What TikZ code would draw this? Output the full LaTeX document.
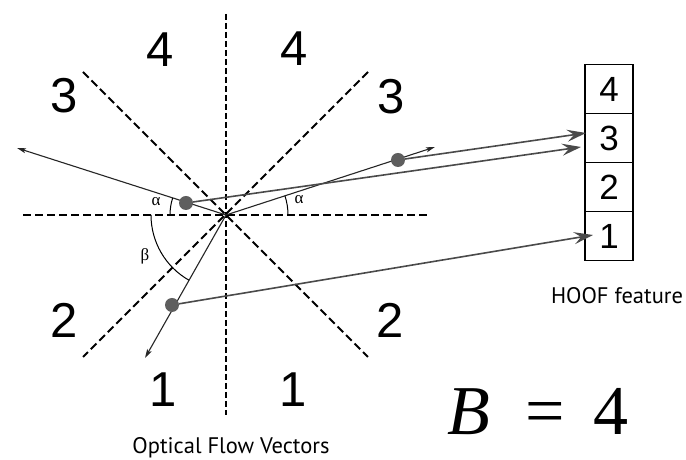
\documentclass[tikz,border=0pt]{standalone}
\usepackage{fontspec}
\setmainfont{Liberation Sans}
\newfontfamily\labelfont{PT Sans}
\newfontfamily\serifgr{Liberation Serif}
\usetikzlibrary{arrows.meta}
\definecolor{dotgray}{HTML}{5E5E5E}
\definecolor{arrgray}{HTML}{4A4A4A}
\begin{document}
\begin{tikzpicture}[x=1pt,y=1pt,
  axisline/.style={line width=2.1pt,dash pattern=on 8pt off 4pt},
  vaxis/.style={line width=1.6pt,dash pattern=on 6pt off 3pt},
  flowvec/.style={line width=1.1pt,draw=black!85,-{Stealth[length=9pt,width=5pt,inset=2pt]}},
  featarrow/.style={line width=1.6pt,draw=arrgray,-{Stealth[length=19pt,width=12pt,inset=7pt]}},
  dotnode/.style={circle,fill=dotgray,minimum size=14pt,inner sep=0pt},
  sector/.style={font=\fontsize{49}{49}\selectfont,inner sep=0pt},
  cell/.style={draw,line width=1.4pt,minimum width=48pt,minimum height=49pt,inner sep=0pt,font=\fontsize{35}{35}\selectfont},
  anglearc/.style={line width=1pt},
  greek/.style={font=\serifgr\fontsize{17}{17}\selectfont,inner sep=0pt},
  caption/.style={font=\labelfont\fontsize{22.5}{22.5}\selectfont,inner sep=0pt}]
\useasboundingbox (0,0) rectangle (686,460);
\fill[white] (0,0) rectangle (686,460);

% axes
\coordinate (O) at (226,245);
\coordinate (hL) at (23,245);
\coordinate (hR) at (428,245);
\coordinate (vT) at (226,446);
\coordinate (vB) at (226,45);
\coordinate (d1a) at (83,388);
\coordinate (d1b) at (368,103);
\coordinate (d2a) at (368,388);
\coordinate (d2b) at (83,103);
\draw[axisline] (hL) -- (hR);
\draw[vaxis] (vT) -- (vB);
\draw[axisline] (d1a) -- (d1b);
\draw[axisline] (d2a) -- (d2b);

% sector numbers
\node[sector] (s4l) at (160,410) {4};
\node[sector] (s4r) at (294,411) {4};
\node[sector] (s3l) at (64,364) {3};
\node[sector] (s3r) at (391,363) {3};
\node[sector] (s2l) at (64,140) {2};
\node[sector] (s2r) at (390,140) {2};
\node[sector] (s1l) at (163,70) {1};
\node[sector] (s1r) at (293,70) {1};

% flow vectors
\coordinate (t1) at (17,312);
\coordinate (t2) at (435,313);
\coordinate (t3) at (145,102);
\draw[flowvec] (O) -- (t1);
\draw[flowvec] (O) -- (t2);
\draw[flowvec] (O) -- (t3);

% angle arcs
\draw[anglearc] ([shift={(180:56)}]O) arc[start angle=180,end angle=162.2,radius=56];
\draw[anglearc] ([shift={(0:62)}]O) arc[start angle=0,end angle=18,radius=62];
\draw[anglearc] ([shift={(180:75)}]O) arc[start angle=180,end angle=240.5,radius=75];
\node[greek] (a1) at (156,258) {α};
\node[greek] (a2) at (299,260) {α};
\node[greek] (b1) at (145,204) {β};

% HOOF feature box
\node[cell] (c4) at (609,371) {4};
\node[cell] (c3) at (609,322) {3};
\node[cell] (c2) at (609,273) {2};
\node[cell] (c1) at (609,224) {1};
\node[caption] (hoof) at (617,164) {HOOF feature};

% dots
\node[dotnode] (D1) at (186,257) {};
\node[dotnode] (D2) at (398,300) {};
\node[dotnode] (D3) at (172,155) {};

% feature arrows
\coordinate (e2) at (586,327);
\coordinate (e1) at (581,313);
\coordinate (e3) at (593,225);
\draw[featarrow] (D2) -- (e2);
\draw[featarrow] (D1) -- (e1);
\draw[featarrow] (D3) -- (e3);

% captions
\node[caption] (ofv) at (231,12) {Optical Flow Vectors};
\node[font=\fontsize{70}{70}\selectfont,anchor=base west,inner sep=0pt] (beq) at (447,25) {{\serifgr\itshape B}\hspace{36pt}{\serifgr =}\hspace{28pt}{\serifgr 4}};
\end{tikzpicture}
\end{document}
